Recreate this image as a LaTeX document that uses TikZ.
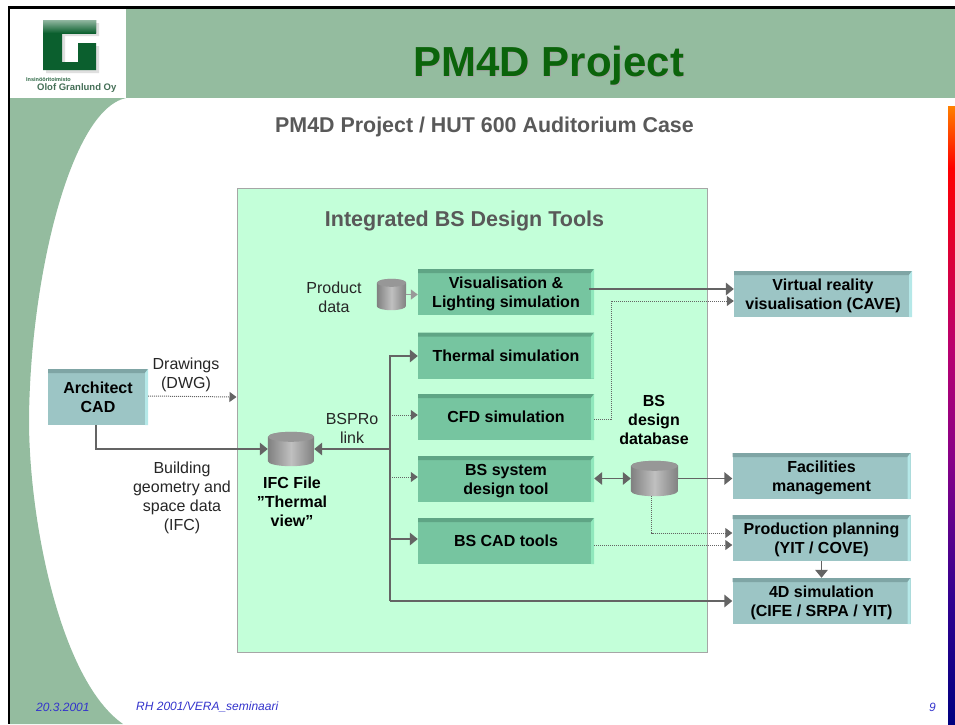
\documentclass[tikz,border=0pt]{standalone}
\usepackage{fontspec}
\setmainfont{Liberation Sans}
\usetikzlibrary{arrows.meta}
\definecolor{headgreen}{HTML}{94BC9F}
\definecolor{titlegreen}{HTML}{0B640B}
\definecolor{logogreen}{HTML}{0B5F2E}
\definecolor{panelgreen}{HTML}{C3FFD9}
\definecolor{linegray}{HTML}{646464}
\definecolor{footblue}{HTML}{3333CC}
\definecolor{simface}{HTML}{76C5A0}
\definecolor{simtop}{HTML}{5FA585}
\definecolor{simside}{HTML}{8FE8BC}
\definecolor{tealface}{HTML}{9CC5C5}
\definecolor{tealtop}{HTML}{7FA5A5}
\definecolor{tealside}{HTML}{B5E8E8}
\definecolor{drumedge}{HTML}{808080}
\definecolor{drummid}{HTML}{C0C0C0}
\definecolor{drumcap}{HTML}{979797}
\definecolor{stripa}{HTML}{FF8000}
\definecolor{stripb}{HTML}{FF0000}
\definecolor{stripc}{HTML}{B80070}
\definecolor{stripd}{HTML}{880088}
\definecolor{stripe}{HTML}{300090}
\definecolor{stripf}{HTML}{000080}
\tikzset{>={Triangle[length=8pt,width=12.5pt]}}
\tikzset{
  bevelbox/.style n args={3}{rectangle,inner sep=0pt,fill=#1,font=\fontsize{16}{19}\selectfont\bfseries,align=center,text depth=0pt,
    path picture={
      \fill[#2] (path picture bounding box.north west) -- (path picture bounding box.north east)
        -- ([shift={(-3,4)}]path picture bounding box.north east) -- ([shift={(0,4)}]path picture bounding box.north west) -- cycle;
      \fill[#3] (path picture bounding box.north east) -- (path picture bounding box.south east)
        -- ([shift={(-3,0)}]path picture bounding box.south east) -- ([shift={(-3,4)}]path picture bounding box.north east) -- cycle;
    }},
  simbox/.style={bevelbox={simface}{simtop}{simside},minimum width=176pt,minimum height=46pt},
  usebox/.style={bevelbox={tealface}{tealtop}{tealside},minimum width=178pt,minimum height=46pt},
  twoline/.style={text depth=-5pt},
  dbdrum/.style={rectangle,inner sep=0pt},
  lbl/.style={font=\fontsize{16}{19}\selectfont,align=center,text=black!85},
  boldlbl/.style={font=\fontsize{16}{19}\selectfont\bfseries,align=center},
  foot/.style={font=\fontsize{12}{14}\selectfont\itshape,text=footblue,anchor=west,inner sep=0pt},
  solidline/.style={draw=linegray,line width=1.8pt},
  feedline/.style={draw=gray!80,line width=1.5pt,>={Triangle[length=7pt,width=10pt]}},
  dotline/.style={draw=linegray,line width=1pt,densely dotted,>={Triangle[length=7pt,width=10pt]}},
}
% drum drawn on a named node: node, half width, cap radius
\newcommand{\drawdrum}[3]{
  \shade[left color=drumedge,right color=drumedge,middle color=drummid]
    ([shift={(0,#3)}]#1.north west) -- ([shift={(0,-#3)}]#1.south west)
    arc[start angle=180,end angle=0,x radius=#2,y radius=#3]
    -- ([shift={(0,#3)}]#1.north east)
    arc[start angle=0,end angle=-180,x radius=#2,y radius=#3] -- cycle;
  \fill[drumcap] ([shift={(0,#3)}]#1.north) ellipse ({#2} and {#3});
}
\begin{document}
\begin{tikzpicture}[x=1pt,y=-1pt]
  \useasboundingbox (0,0) rectangle (955,724);
  % slide background
  \fill[headgreen] (10,9) rectangle (955,98);
  \fill[headgreen] (126,98) .. controls (70,110) and (30,280) .. (29,420) .. controls (29,520) and (60,680) .. (123,724) -- (10,724) -- (10,98) -- cycle;
  \fill[white] (10,9) rectangle (126,98);
  \fill[black] (8,6) rectangle (955,9);
  \fill[black] (8,6) rectangle (10,724);
  \foreach \ya/\yb/\ca/\cb in {106/168/stripa/stripb,168/350/stripb/stripc,350/458/stripc/stripd,458/600/stripd/stripe,600/724/stripe/stripf}
    \shade[top color=\ca,bottom color=\cb] (948,\ya) rectangle (955,\yb);
  % logo
  \fill[gray!25] (46,23) -- (99,23) -- (99,36) -- (65,36) -- (65,65) -- (81,65) -- (81,46) -- (99,46) -- (99,73) -- (46,73) -- cycle;
  \fill[logogreen] (43,20) -- (96,20) -- (96,33) -- (62,33) -- (62,62) -- (78,62) -- (78,43) -- (96,43) -- (96,70) -- (43,70) -- cycle;
  \shade[top color=logogreen!45,bottom color=logogreen] (43,20) rectangle (96,33);
  \node[font=\fontsize{5.5}{6}\selectfont\bfseries,text=logogreen!70!gray,anchor=west,inner sep=0pt] (logotop) at (26,80) {Insinööritoimisto};
  \node[font=\fontsize{9.5}{10}\selectfont\bfseries,text=logogreen!50!gray,anchor=west,inner sep=0pt] (logoname) at (37,88) {Olof Granlund Oy};
  % titles
  \node[font=\fontsize{42}{46}\selectfont\bfseries,text=gray!70] (titleshadow) at (550,67) {PM4D Project};
  \node[font=\fontsize{42}{46}\selectfont\bfseries,text=titlegreen] (title) at (549,66) {PM4D Project};
  \node[font=\fontsize{21.4}{24}\selectfont\bfseries,text=black!65] (subtitle) at (484.5,127) {PM4D Project / HUT 600 Auditorium Case};
  % design tools panel
  \node[draw=gray!70,line width=1pt,fill=panelgreen,minimum width=470pt,minimum height=464pt,inner sep=0pt] (panel) at (472,420) {};
  \node[font=\fontsize{21.5}{24}\selectfont\bfseries,text=black!65] (paneltitle) at (464.5,221) {Integrated BS Design Tools};
  % boxes
  \node[simbox,twoline] (vis) at (506,292) {Visualisation \&\\Lighting simulation};
  \node[simbox] (thermal) at (506,355.5) {Thermal simulation};
  \node[simbox] (cfd) at (506,417) {CFD simulation};
  \node[simbox,twoline] (bssys) at (506,479) {BS system\\design tool};
  \node[simbox] (bscad) at (506,541) {BS CAD tools};
  \node[usebox,twoline] (cave) at (823,294) {Virtual reality\\visualisation (CAVE)};
  \node[usebox,twoline] (fm) at (821.5,476) {Facilities\\management};
  \node[usebox,twoline] (prod) at (821.5,538) {Production planning\\(YIT / COVE)};
  \node[usebox,twoline] (sim4d) at (821.5,601) {4D simulation\\(CIFE / SRPA / YIT)};
  \node[usebox,twoline,minimum width=100pt,minimum height=56pt] (arch) at (98,397) {Architect\\CAD};
  % data stores
  \node[dbdrum,minimum width=29pt,minimum height=31pt] (dbprod) at (391.5,294.5) {};
  \node[dbdrum,minimum width=46pt,minimum height=34pt] (dbifc) at (291,449) {};
  \node[dbdrum,minimum width=47pt,minimum height=35pt] (dbbs) at (654.5,478.5) {};
  \drawdrum{dbprod}{14.5}{4}
  \drawdrum{dbifc}{23}{5}
  \drawdrum{dbbs}{23.5}{5}
  % labels
  \node[lbl] (lblprod) at (334,297) {Product\\data};
  \node[lbl] (lbldwg) at (186,375) {Drawings\\(DWG)};
  \node[lbl] (lblifc) at (182,498) {Building\\geometry and\\space data\\(IFC)};
  \node[lbl] (lbllink) at (352,428) {BSPRo\\link};
  \node[boldlbl] (lblfile) at (292,502) {IFC File\\”Thermal\\view”};
  \node[boldlbl] (lbldb) at (654,420) {BS\\design\\database};
  % trunk
  \coordinate (trunktop) at (390,356);
  \coordinate (trunkifc) at (390,449);
  \coordinate (trunkcfd) at (390,415);
  \coordinate (trunksys) at (390,477);
  \coordinate (trunkcad) at (390,539);
  \coordinate (trunkbot) at (390,601);
  \coordinate (cfdturn) at (611,301);
  \draw[solidline,->] (trunkbot) -- (trunktop) -- (thermal.west |- trunktop);
  \draw[solidline,->] (trunkifc) -- (dbifc.east |- trunkifc);
  \draw[solidline,->] (trunkcad) -- (bscad.west |- trunkcad);
  \draw[solidline,->] (trunkbot) -- (sim4d.west);
  \draw[dotline,->] (trunkcfd) -- (cfd.west |- trunkcfd);
  \draw[dotline,->] (trunksys) -- (bssys.west |- trunksys);
  \draw[feedline,->] (dbprod.east) -- (vis.west |- dbprod.east);
  \draw[solidline,->] ([shift={(-5,-3)}]vis.east) -- ([shift={(0,-5)}]cave.west);
  \draw[dotline,->] ([shift={(0,2)}]cfd.east) -| (cfdturn) -- (cave.west |- cfdturn);
  \draw[solidline,<->] (bssys.east |- dbbs.west) -- (dbbs.west);
  \draw[solidline,->] (dbbs.east) -- (fm.west |- dbbs.east);
  \draw[dotline,->] ([shift={(-3,0)}]dbbs.south) |- ([shift={(0,-5)}]prod.west);
  \draw[dotline,->] ([shift={(0,4)}]bscad.east) -- ([shift={(0,7)}]prod.west);
  \draw[solidline,->] (prod.south) -- (sim4d.north);
  \draw[dotline,->] ([shift={(0,-1)}]arch.east) -- (panel.west |- arch.east);
  \draw[solidline,->] ([shift={(-2,0)}]arch.south) |- (dbifc.west);
  % footer
  \node[foot] (footdate) at (36,707) {20.3.2001};
  \node[foot] (footref) at (136,707) {RH 2001/VERA\_seminaari};
  \node[foot] (footpage) at (929,707) {9};
\end{tikzpicture}
\end{document}
